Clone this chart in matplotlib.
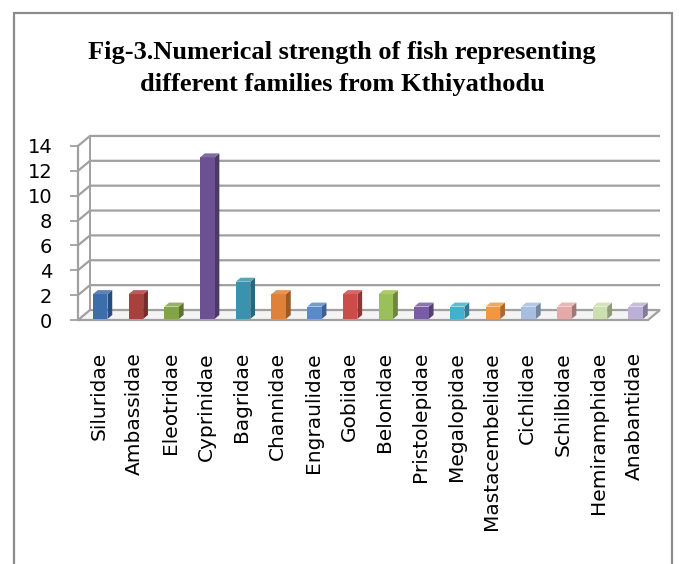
import numpy as np
import matplotlib
matplotlib.use('Agg')
import matplotlib.pyplot as plt
from matplotlib.patches import Polygon, Rectangle

# 数据
families = ['Siluridae', 'Ambassidae', 'Eleotridae', 'Cyprinidae', 'Bagridae',
            'Channidae', 'Engraulidae', 'Gobiidae', 'Belonidae', 'Pristolepidae',
            'Megalopidae', 'Mastacembelidae', 'Cichlidae', 'Schilbidae',
            'Hemiramphidae', 'Anabantidae']
counts = [2, 2, 1, 13, 3, 2, 1, 2, 2, 1, 1, 1, 1, 1, 1, 1]
y_ticks = [0, 2, 4, 6, 8, 10, 12, 14]
bar_colors = ['#3E6DAB', '#A8403D', '#82A443', '#6C5192', '#3A93AE', '#E0813A',
              '#5A8ACB', '#CC4C49', '#9CC059', '#7A5CA6', '#3FB2CF', '#F4963F',
              '#A7BEE0', '#E3AAAA', '#CCDFAE', '#BDB0D6']
title_lines = ['Fig-3.Numerical strength of fish representing',
               'different families from Kthiyathodu']


def shade(c, k):
    rgb = np.array(matplotlib.colors.to_rgb(c))
    if k < 1:
        rgb = rgb * k
    else:
        rgb = rgb + (1 - rgb) * (k - 1)
    return np.clip(rgb, 0, 1)


W, H = 681, 564
fig = plt.figure(figsize=(W / 100, H / 100), dpi=100)

# 外框
fig.patches.append(Rectangle((14 / W, -0.02), (672 - 14) / W, (H - 13) / H + 0.02,
                             transform=fig.transFigure, fill=False,
                             edgecolor='#8c8c8c', lw=1.6))

# 标题 (两行)
for line, ypix in zip(title_lines, [53, 84]):
    fig.text(342 / W, 1 - ypix / H, line, ha='center', va='center',
             family='Liberation Serif', weight='bold', fontsize=19)

# 坐标轴 (前平面)
x0 = (78 - 99) / 35.7
x1 = x0 + (660 - 78) / 35.7
ytop = 14.8
ax = fig.add_axes([78 / W, (H - 320) / H, (660 - 78) / W, 184 / H])
ax.set_xlim(x0, x1)
ax.set_ylim(0, ytop)
for s in ax.spines.values():
    s.set_visible(False)

dx, dy = 12 / 35.7, 10 / 12.43
grid_c = '#a0a0a0'
xf_end = (648 - 99) / 35.7

# 背板网格线
for v in y_ticks:
    if v > 0:
        ax.plot([x0, x0 + dx, x1], [v, v + dy, v + dy], color=grid_c, lw=1.6,
                zorder=1, clip_on=False, solid_capstyle='butt')
ax.plot([x0 + dx, x0 + dx], [dy, 14 + dy], color=grid_c, lw=1.4, zorder=1, clip_on=False)
ax.plot([x0, x0], [0, 14], color=grid_c, lw=1.6, zorder=1, clip_on=False)

# 底面
floor = Polygon([(x0, 0), (xf_end, 0), (xf_end + dx, dy), (x0 + dx, dy)],
                closed=True, facecolor='#f4f4f4', edgecolor=grid_c, lw=1.6,
                zorder=2, clip_on=False)
ax.add_patch(floor)

# 柱子
w = 14.5 / 35.7
f0, fb = 0.1, 0.4
for i, (v, c) in enumerate(zip(counts, bar_colors)):
    xl = i - w / 2 + f0 * dx
    xr = xl + w
    b = f0 * dy
    bx, by = fb * dx, fb * dy
    front = [(xl, b), (xr, b), (xr, b + v), (xl, b + v)]
    side = [(xr, b), (xr + bx, b + by), (xr + bx, b + v + by), (xr, b + v)]
    top = [(xl, b + v), (xr, b + v), (xr + bx, b + v + by), (xl + bx, b + v + by)]
    ax.add_patch(Polygon(side, closed=True, facecolor=shade(c, 0.7), edgecolor='none',
                         zorder=3, clip_on=False))
    ax.add_patch(Polygon(front, closed=True, facecolor=c, edgecolor='none',
                         zorder=3, clip_on=False))
    ax.add_patch(Polygon(top, closed=True, facecolor=shade(c, 1.15), edgecolor='none',
                         zorder=3, clip_on=False))

ax.set_yticks(y_ticks)
ax.set_yticklabels([str(t) for t in y_ticks], family='DejaVu Sans', fontsize=14)
ax.tick_params(axis='y', length=5.5, width=1.3, color=grid_c, pad=13)
ax.set_xticks(range(len(families)))
ax.set_xticklabels(families, rotation=90, family='DejaVu Sans', fontsize=14.5,
                   va='top', ha='center')
ax.tick_params(axis='x', length=0, pad=23)

fig.savefig('out.png', dpi=100)
